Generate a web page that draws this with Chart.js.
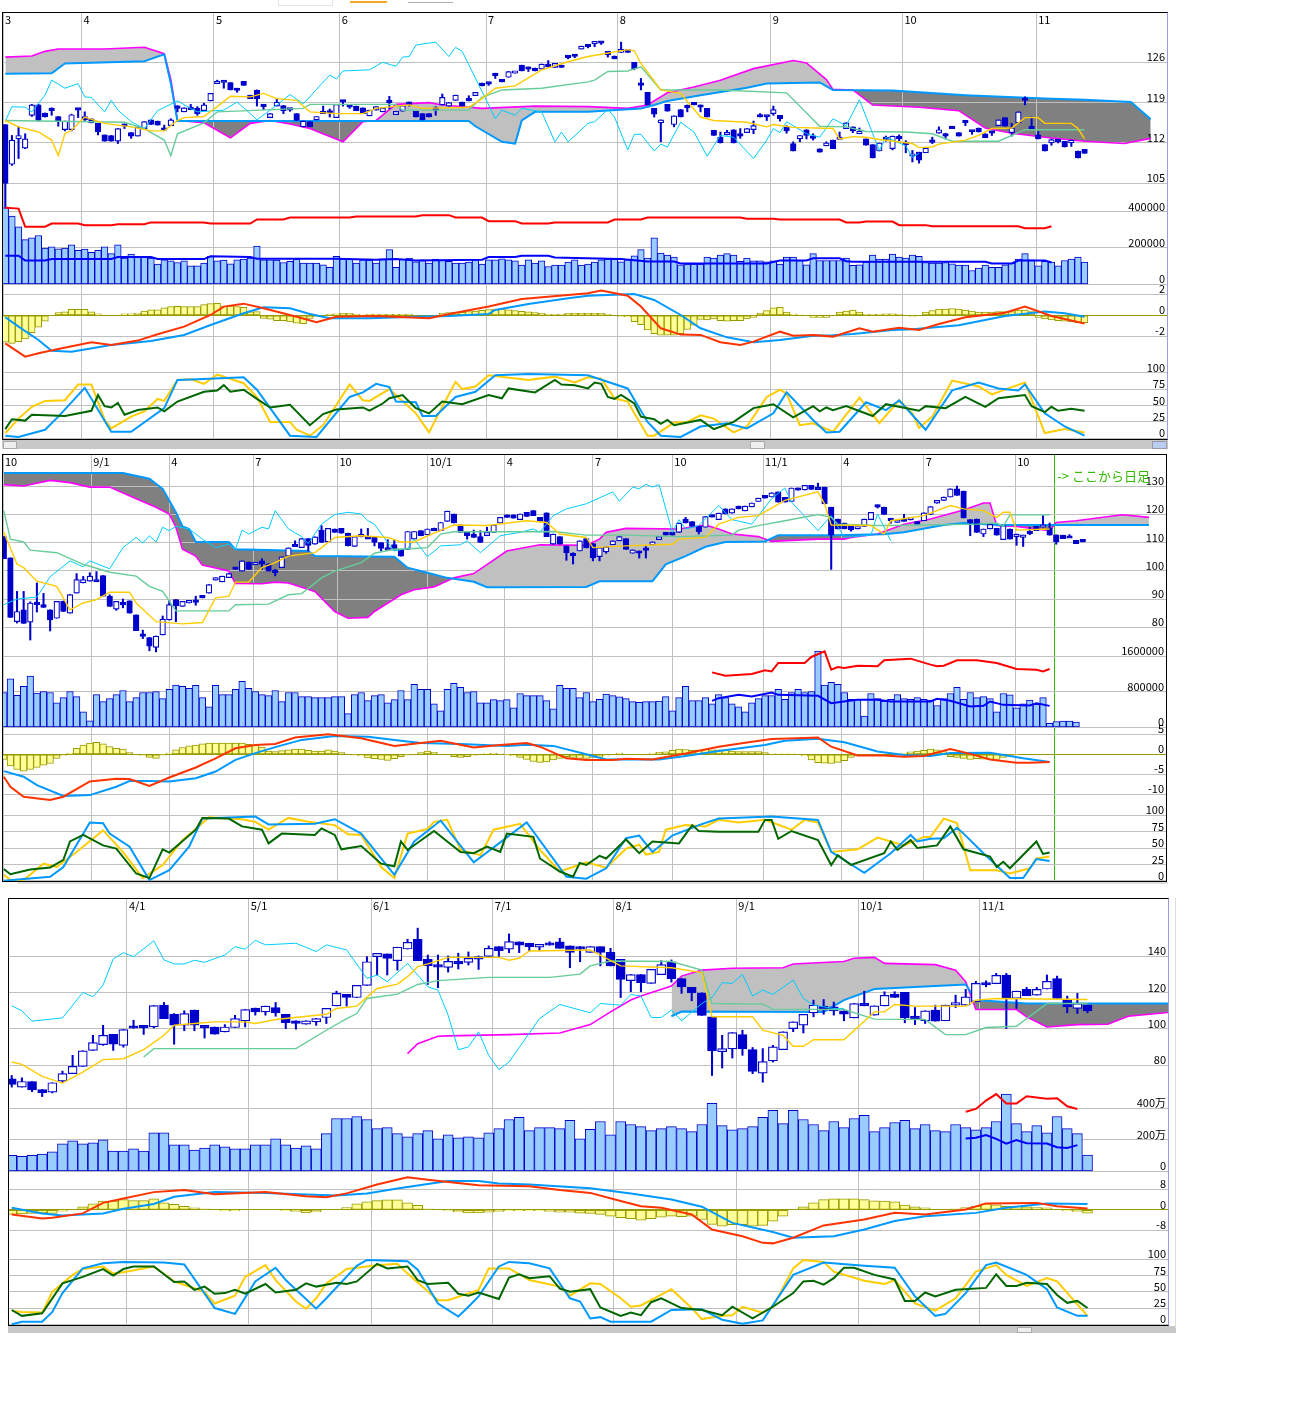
<!DOCTYPE html>
<html>
<head>
<meta charset="utf-8">
<script src="https://cdn.jsdelivr.net/npm/chart.js@4"></script>
<style>
body{margin:0;background:#fff;}
.frame{position:absolute;border-top:1px solid #000;border-left:1px solid #000;border-bottom:1px solid #000;border-right:1px solid #9a9ae0;box-sizing:border-box;}
canvas{position:absolute;left:0;top:0;}
.bar{position:absolute;background:#c8c8c8;}
.tab{position:absolute;box-sizing:border-box;}
</style>
</head>
<body>
<div class="tab" style="left:278px;top:0;width:55px;height:6px;border:1px solid #e4e4e4;border-top:0"></div>
<div class="tab" style="left:350px;top:0;width:37px;height:3px;border-bottom:2px solid #f5a623"></div>
<div class="tab" style="left:408px;top:0;width:45px;height:3px;border-bottom:1px solid #aaa"></div>
<div class="frame" style="left:2px;top:12px;width:1166px;height:428px"><canvas id="top_chart" width="1164" height="426"></canvas></div>
<div class="bar" style="left:2px;top:440px;width:1166px;height:9px"></div>
<div class="bar" style="left:3px;top:441px;width:14px;height:8px;background:#eee;border:1px solid #aaa;box-sizing:border-box"></div>
<div class="bar" style="left:750px;top:441px;width:15px;height:8px;background:#eee;border:1px solid #aaa;box-sizing:border-box"></div>
<div class="bar" style="left:1152px;top:441px;width:15px;height:8px;background:#b8cdf0;border:1px solid #99a;box-sizing:border-box"></div>
<div class="frame" style="left:2px;top:454px;width:1165px;height:428px;border-right-color:#000"><canvas id="mid_chart" width="1163" height="426"></canvas></div>
<div class="bar" style="left:18px;top:882px;width:1150px;height:2px;background:#ddd"></div>
<div class="frame" style="left:8px;top:898px;width:1161px;height:428px"><canvas id="bot_chart" width="1159" height="426"></canvas></div>
<div class="bar" style="left:8px;top:1326px;width:1168px;height:7px"></div>
<div class="bar" style="left:1017px;top:1327px;width:15px;height:6px;background:#eee;border:1px solid #aaa;box-sizing:border-box"></div>
<div class="bar" style="left:1175px;top:898px;width:1px;height:430px;background:#ddd"></div>
<script>
// [open, high, low, close] per column
const top_candles = [[115.2,115.2,100.5,105],[108.3,113.3,108.1,112.5],[112.7,114.8,109.3,113.3],[111.1,113.6,111,112.7],[116.8,118.7,116.6,118.6],[118.6,118.7,115.8,115.9],[117.2,117.2,116.5,116.5],[118,118.1,116.8,117.6],[116.6,116.6,114.9,115.8],[114.3,115.8,114.1,115.8],[114.3,117,114.1,116.9],[118,118,116.4,117.7],[116.6,117.4,115.9,116],[116.2,116.2,115.5,115.5],[115.4,115.4,113.4,113.9],[113.4,113.4,112.3,112.3],[113.3,113.3,112.3,112.3],[112.3,114.5,111.9,114.5],[114.9,115.3,114.5,114.9],[113.8,113.8,112.8,113.2],[113.2,114.8,113.2,114.8],[114.5,115.7,114.5,115.7],[116,116,115.2,115.2],[115.8,115.8,115.1,115.1],[114.6,115.1,114.2,114.2],[115,116.2,115,116],[118,118.5,117.4,118],[117.4,118.1,117.4,118.1],[118.1,118.7,117.8,117.8],[118,118.3,116.8,117.1],[117.6,118.9,117.6,118.6],[119.3,120.6,119.3,120.6],[122.3,122.9,122.3,122.7],[122.5,122.5,121.5,122.5],[122.5,122.5,121.2,121.2],[121.5,121.5,120.8,121.1],[122.7,122.7,122,122],[120.3,120.3,119.7,119.7],[121.2,121.2,118.4,119.7],[118.3,118.7,117.8,118.3],[116.4,117.1,116.4,117.1],[118.4,119.7,118.4,119.1],[118.5,118.5,117.1,117.6],[117.7,118,117.5,117.7],[117.1,117.1,115.9,115.9],[114.8,115.8,114.8,115.8],[115.7,115.7,114.8,114.8],[116,116.6,116,116.6],[117.4,118.4,117.1,117.1],[117.2,117.9,116.5,117.2],[116.4,118.7,116.4,118.7],[119.4,119.4,118.4,119.1],[118.2,118.4,118,118.2],[118.4,118.4,117.6,117.6],[118.1,118.1,117.1,117.1],[116.7,117.7,116.7,117.7],[117.7,118.3,117.7,118.3],[117.4,118.1,117.4,118.1],[119,120.1,117.9,119],[116.9,117.5,116.9,117.5],[117.5,118.5,117.5,118.5],[118.7,119.1,118.4,118.7],[117.5,117.5,116.5,116.5],[117.1,117.1,116,116],[117.1,117.1,116.5,116.5],[117.7,118.3,116.8,117.7],[118.6,120.5,118.6,119.9],[118.4,119,118.4,119],[119.4,120.3,119.4,120.3],[119.1,119.1,118.4,118.4],[119.6,120.2,119.3,119.3],[120.2,120.8,120.2,120.8],[122.4,122.4,121.9,121.9],[122.2,122.4,122,122.2],[123.7,124.1,123.2,123.7],[123,123,122.6,122.6],[123.4,124.4,123.4,124.4],[124.1,124.4,124.1,124.4],[125.5,125.5,124.5,124.5],[124.8,125.2,124.4,124.8],[125,125,124.5,124.5],[124.8,125.7,124.8,125.7],[125.7,126.3,125.2,125.2],[125.1,125.8,125.1,125.8],[125.5,125.5,125.1,125.1],[126.8,127,126.6,126.8],[127,127.2,126.8,127],[128.3,128.8,128.3,128.8],[128.7,128.9,128.5,128.7],[129.2,129.6,128.7,129.4],[129.3,129.5,129.1,129.3],[127.9,127.9,126.9,127.3],[127.1,127.1,126.6,126.6],[127.7,129.5,127.7,128.3],[128.2,128.2,127.7,127.7],[126,126,124.7,124.9],[122,123.2,121.2,122],[120.8,120.8,118.6,118.6],[118,118,116.5,117],[115.5,116,112.2,116],[118.7,118.7,117.5,117.5],[115.2,116.7,114.8,116.7],[117.8,117.8,116.5,116.5],[118.1,118.6,117.4,118.1],[119,119,118.6,118.6],[118.2,118.6,117.4,118.2],[118,118,116.5,116.5],[114.2,114.2,113.3,113.3],[113,113.9,112,112],[113.4,114.2,113.4,113.8],[114.3,114.3,112,112],[113.2,114.5,112.8,113.2],[113.8,114.5,113.8,114.5],[114.3,115.8,113.6,115],[116.8,117.1,116.5,116.5],[116.5,116.5,115.9,116.5],[117.1,118.4,116.8,117.8],[116.8,116.8,115.8,116.2],[114.7,115,113.7,114.1],[111.9,112.2,110.6,110.6],[112.7,113.3,112.2,113.3],[114.3,114.3,112.7,113.3],[112.8,113.6,112.5,112.8],[111,111,110.4,110.4],[111.5,112.2,111.5,112],[112.5,112.5,111,111],[112.6,113.9,112.6,113],[114.5,115.5,114.5,115.5],[114.8,114.8,113.8,114.1],[113.6,114.6,113.6,114],[112.7,112.7,111.6,111.6],[111.7,111.7,109.4,109.4],[110.6,112,110.6,112],[112.6,113.2,112.3,112.6],[111,113.2,110.8,113.2],[112.7,113.4,112.4,112.7],[111.7,112.4,110.3,111.7],[109.7,110.7,108.7,110],[110.4,110.4,108.5,109],[110.3,111.1,110.3,111.1],[112.1,113,111.9,112.1],[113.7,114.8,113.7,114.3],[113.2,113.7,112.7,113.2],[114.9,114.9,114.5,114.5],[113.8,113.8,113.2,113.2],[115.5,115.9,115,115.5],[113.9,114.1,113.5,113.9],[114.6,114.6,113.9,113.9],[113.6,113.6,112.9,112.9],[113.7,114,113.3,113.7],[115,116,115,116],[116.4,116.4,114.9,114.9],[113.8,115.4,113.2,114.6],[115.5,117.4,115.5,117.4],[119.4,120,118.6,119.4],[114.9,116.5,114.4,114.4],[113.4,114,112.7,112.7],[111.7,111.7,110.6,110.6],[112,112.7,111.6,112.6],[112.2,112.4,112,112.2],[112.3,112.3,111.3,111.3],[112,112.5,111.4,112.5],[110.6,110.6,109.4,109.4],[110.9,110.9,110.2,110.2]];
const top_volume = [422,376,317,246,256,269,200,206,196,200,217,187,194,176,187,206,169,217,144,167,154,154,144,111,135,130,120,130,102,102,117,154,130,133,113,135,139,144,211,135,135,133,120,126,139,117,117,117,107,94,154,141,139,117,135,133,117,141,191,94,139,144,124,135,117,139,132,126,117,117,122,135,111,135,135,141,135,130,106,135,117,130,98,106,106,122,135,106,111,122,135,139,139,124,135,157,191,144,256,172,161,150,107,111,111,111,150,144,161,169,161,126,144,130,130,124,130,111,150,150,131,107,169,131,131,131,131,144,104,107,122,161,139,139,167,150,144,161,154,120,117,117,120,113,106,106,76,89,106,94,94,107,117,139,169,135,102,126,122,102,131,139,150,122];
const top_hist = [-2.57,-2.67,-2.5,-2.25,-1.65,-1.14,-.57,0,.25,.32,.57,.57,.57,.32,.13,0,0,0,.13,.13,.22,.41,.51,.51,.7,.83,.86,.83,.83,.83,1.02,1.11,1.14,.89,.89,.83,.76,.32,.35,-.29,-.38,-.51,-.51,-.63,-.76,-.79,-.29,-.13,0,.1,.13,.19,.19,.1,.03,.1,.1,.1,.1,.1,.1,.1,-.13,-.13,-.13,-.13,.19,.25,.29,.29,.35,.41,.48,.54,.6,.6,.51,.44,.38,.32,.25,.19,.1,.1,.1,.19,.19,.19,.19,.19,.19,.1,0,-.1,-.15,-.6,-.9,-1.4,-1.75,-1.9,-1.9,-1.9,-1.75,-1.35,-.95,-.4,-.45,-.35,-.5,-.55,-.5,-.5,-.35,-.2,.2,.45,.7,.75,.3,.12,.05,0,-.2,-.2,-.2,0,.3,.4,.5,.3,.1,.1,.1,.15,.15,.1,0,-.1,0,.3,.45,.6,.6,.65,.6,.5,.4,.3,.3,.3,.35,.35,.35,.5,.5,.35,-.2,-.35,-.45,-.5,-.55,-.6,-.7,-.7];
const top_month_cols = [-.35,11.5,31.5,50.5,72.6,92.5,115.6,135.5,155.7];
const top_month_labels = ['3','4','5','6','7','8','9','10','11'];
const top_span_a = [[0,126.9],[4,127.1],[6,127.9],[8,128.3],[15,128.3],[21,128.6],[24,127.5],[25,123],[26,115.9],[30,115.5],[34,112.9],[37,115.4],[40,115.9],[43,115.3],[46,114.5],[51,112.2],[54,115.7],[56,115.9],[59,118.7],[64,119],[66,118.6],[72,118],[80,118.4],[88,118.3],[94,118],[97,118.6],[100,120.7],[104,121.7],[108,122.9],[113,124.9],[119,126.3],[121,125.9],[124,123],[125,121.3],[128,121.2],[131,118.6],[138,118.2],[144,117.6],[148,114.6],[152,113.7],[157,113],[163,112.3],[169,111.9],[173,112.8]];
const top_span_b = [[0,124],[7,124.1],[9,125.8],[21,126.2],[24,127.4],[25,122.3],[26,115.8],[70,115.8],[71,114.9],[75,112.2],[77,111.9],[78,115.9],[80,117.4],[88,117.4],[96,118],[98,118.6],[100,119.3],[105,120.3],[112,121.6],[115,122.3],[123,122.5],[125,121.2],[134,121.1],[145,120.3],[157,119.7],[163,119.5],[170,119.1],[173,116.1]];
const top_tenkan = [[0,115.9],[2,114.8],[5,113.9],[7,112.5],[8,109.8],[9,113.6],[10,114.2],[12,116.5],[13,116.1],[15,115.4],[19,114.8],[22,114.1],[24,114.1],[26,115.9],[27,116.4],[30,116.6],[32,118.3],[34,120.1],[37,120],[39,120.6],[41,119.7],[44,119.4],[46,117.4],[50,117.1],[54,117.1],[56,118],[59,118.4],[61,118.6],[63,118],[70,118.2],[72,119.7],[74,121.5],[77,121.9],[81,124.7],[85,126.1],[88,127],[90,127.4],[94,128.2],[95,128],[96,125.8],[99,121.2],[102,120.6],[105,116.5],[107,115.9],[112,115.6],[115,114.8],[116,115.2],[119,114.7],[125,114.5],[126,112.7],[128,113.1],[130,113],[132,112.6],[137,111.9],[138,111.2],[140,111.3],[141,111.8],[145,112.5],[147,113.3],[149,114.5],[152,114.6],[154,116.4],[156,116.4],[157,115.4],[161,115.4],[162,114.5],[163,112.7]];
const top_kijun = [[0,115.9],[18,115.6],[21,114.5],[24,112.5],[25,109.8],[26,113.6],[30,115.5],[32,117.4],[45,118],[46,118.7],[59,118.7],[60,117.7],[70,117.7],[72,119.9],[75,121.2],[81,121.5],[88,122.6],[89,122.9],[91,124.4],[94,124.5],[96,125.2],[99,121.2],[101,121.2],[108,121.2],[118,120.7],[123,114.9],[127,114.8],[130,114],[136,113.9],[140,113.6],[143,112.3],[150,112.3],[154,114.3],[163,114.3]];
const top_chikou = [[0,115.8],[1,118.3],[3,118.2],[4,117.4],[6,120.3],[7,122.9],[9,121.5],[11,122.3],[12,120],[13,119.9],[15,117.4],[16,119.4],[17,117.7],[19,115.7],[21,114.5],[23,117.6],[26,119.3],[28,118],[29,117.4],[33,117.7],[35,119.1],[37,117.1],[38,116],[40,117.7],[43,120.4],[45,118.8],[49,123.8],[50,123.1],[51,124.5],[55,124.7],[57,126],[59,125.3],[60,126.9],[61,127],[62,129],[65,129.5],[67,127],[68,128.6],[69,127.9],[73,118.6],[74,116.2],[75,117.7],[77,116.8],[78,118],[81,117.4],[83,112.2],[84,113.9],[85,112.2],[88,115.4],[89,115.7],[91,117.8],[92,116.5],[94,110.8],[95,113.5],[96,113.5],[98,110.6],[99,111.8],[100,111.3],[102,115.6],[104,113.9],[106,109.7],[108,113.3],[110,113],[113,109.3],[115,112.5],[116,114.5],[117,113.8],[118,115.7],[121,113.6],[123,113],[125,116.2],[127,115],[129,119.5],[131,113.6],[132,110.7],[133,113],[136,111.5],[137,109.5],[138,110.2]];
const top_vol_red = [[0,422],[2,417],[3,317],[6,317],[7,335],[11,335],[12,326],[16,326],[17,331],[21,331],[22,341],[30,341],[31,335],[37,335],[38,357],[42,357],[43,368],[52,368],[53,374],[62,374],[63,381],[67,381],[68,368],[72,368],[73,348],[77,348],[78,335],[82,335],[83,341],[91,341],[92,357],[96,357],[97,368],[111,368],[112,361],[116,361],[117,357],[126,357],[127,341],[129,341],[130,346],[134,346],[135,326],[139,326],[140,320],[153,320],[154,309],[157,309],[158,320]];
const top_vol_blue = [[0,157],[2,157],[3,131],[6,131],[7,139],[16,139],[17,150],[22,150],[23,139],[30,139],[31,154],[37,150],[38,141],[50,141],[56,135],[59,139],[62,131],[72,135],[73,150],[77,150],[78,157],[82,157],[83,148],[91,141],[93,139],[97,126],[101,126],[102,115],[115,115],[117,131],[121,131],[122,143],[126,143],[127,127],[128,124],[148,124],[149,115],[152,115],[153,131],[157,131],[158,120]];
const top_macd_blue = [[0,-.19],[2,-1.08],[5,-2.35],[7,-3.37],[10,-3.46],[16,-2.83],[22,-2.44],[27,-1.87],[31,-.92],[36,.19],[39,.76],[43,.67],[46,.13],[49,-.29],[55,-.29],[62,-.13],[67,-.06],[73,.13],[74,.51],[79,1.08],[85,1.62],[88,1.87],[95,2.03],[98,1.46],[102,.03],[105,-1.24],[109,-2.1],[113,-2.57],[117,-2.35],[122,-1.94],[125,-1.9],[128,-1.78],[134,-1.4],[137,-1.33],[144,-.95],[151,-.06],[157,.35],[160,.19],[163,-.13]];
const top_macd_red = [[0,-2.67],[3,-3.94],[5,-3.62],[8,-3.21],[13,-2.57],[16,-2.83],[20,-2.41],[23,-1.81],[27,-1.08],[31,.03],[33,.83],[36,1.11],[39,.67],[44,-.13],[47,-.67],[50,-.13],[56,-.06],[64,-.29],[68,.25],[73,.83],[78,1.56],[88,2.1],[90,2.35],[94,1.87],[96,.83],[99,-1.24],[102,-1.84],[105,-1.87],[108,-2.57],[111,-2.83],[113,-2.51],[117,-1.56],[119,-1.94],[122,-1.87],[125,-2.03],[129,-1.24],[131,-1.56],[135,-1.18],[138,-1.4],[141,-.83],[145,-.19],[151,.25],[154,.83],[158,-.06],[163,-.79]];
const top_stoch_yellow = [[0,8],[2,30],[4,48],[6,57],[9,58],[11,82],[13,82],[15,28],[16,15],[19,33],[21,41],[23,60],[24,57],[26,89],[28,90],[30,83],[32,97],[36,84],[38,63],[40,25],[43,25],[44,13],[46,4],[48,20],[52,82],[54,58],[55,57],[58,75],[62,38],[64,9],[66,48],[68,86],[69,75],[71,79],[73,96],[79,89],[83,94],[86,85],[88,93],[90,91],[92,61],[94,56],[95,38],[97,4],[98,4],[101,24],[103,25],[105,35],[107,30],[110,9],[112,18],[115,63],[117,74],[118,68],[120,20],[122,23],[125,10],[127,36],[129,62],[132,23],[135,58],[137,38],[138,16],[140,33],[143,88],[147,79],[149,67],[152,78],[154,85],[157,8],[160,14],[163,9]];
const top_stoch_blue = [[0,4],[2,2],[6,13],[8,33],[12,77],[16,10],[19,10],[24,46],[26,89],[29,90],[36,93],[38,74],[43,4],[47,2],[52,63],[54,70],[56,83],[58,78],[59,56],[62,55],[63,34],[65,34],[68,63],[71,71],[74,96],[79,98],[88,96],[94,76],[97,25],[99,4],[102,2],[105,18],[109,23],[112,15],[116,38],[118,70],[122,28],[124,9],[126,10],[130,55],[133,43],[135,58],[139,13],[143,73],[147,85],[150,76],[153,73],[154,82],[157,38],[160,18],[163,4]];
const top_stoch_green = [[0,14],[1,29],[3,27],[4,36],[9,34],[13,42],[14,66],[15,49],[16,47],[17,54],[18,36],[20,43],[23,47],[24,41],[26,56],[30,71],[32,73],[33,81],[34,71],[36,74],[38,60],[40,47],[43,51],[46,20],[48,37],[50,44],[54,47],[55,42],[57,53],[58,61],[60,66],[62,46],[64,38],[66,56],[69,52],[73,66],[75,61],[76,76],[80,70],[83,89],[84,82],[86,81],[88,76],[89,85],[90,83],[91,63],[92,60],[93,66],[95,53],[96,33],[98,29],[99,22],[100,28],[101,20],[105,28],[107,14],[110,25],[113,46],[116,52],[119,32],[122,49],[123,41],[124,47],[125,43],[127,49],[131,34],[133,52],[138,42],[139,49],[142,46],[145,63],[148,48],[150,61],[154,66],[155,49],[157,40],[158,48],[159,42],[161,45],[163,42]];

const mid_candles = [[112.1,112.1,104.3,104.3],[104.6,104.6,83.5,83.5],[82,92.7,81.5,85.6],[86.2,92.7,81.4,81.4],[81.8,89,75.5,88.6],[88.3,95.7,85.4,88],[88,92,87,87],[86.2,86.2,78.7,82.6],[83.2,89.2,83.2,89.2],[89.2,89.3,85.6,85.6],[85,91.6,85,91.6],[92.1,99,92.1,96.9],[95.7,98,95.7,96.9],[96.3,99.3,96.3,98.1],[96.9,99.7,96.7,96.9],[98.3,98.3,91,91],[91,91.5,87.4,87.4],[86.4,89.2,86,89.2],[88.8,90,86.9,88.8],[89.4,89.4,85,85],[84.4,84.4,78.8,78.8],[77.7,79,76,77.7],[76.4,76.4,71.7,73.3],[72.9,76.9,71.3,76.9],[77.3,84,77.3,82.9],[82.6,89.5,82.6,88],[89.8,89.8,82,87.6],[87.4,89.2,87.4,89.2],[88.6,89.5,88.6,89.5],[89.7,91,87.8,89.7],[91.2,91.2,90.4,90.4],[92.1,95.1,92.1,95.1],[96.7,97.5,96.7,97.5],[96.1,98.1,96.1,98.1],[97.6,99,97.6,99],[101.2,101.2,100.5,100.5],[99.9,103.5,99.9,103.5],[103.1,103.1,100.5,100.5],[102.2,102.9,102.2,102.9],[103.5,104.3,100.5,102.3],[102.5,102.5,99.9,99.9],[100.2,100.5,98.2,100.2],[101.1,104.9,101.1,104.9],[105.2,108.1,105.2,108.1],[109.4,110.6,109.2,109.4],[108.2,111.4,108.2,111.4],[111.4,111.4,107,109],[109.4,112,109.4,112],[114.4,116,110,110],[110.2,115,110.2,115],[114.8,114.8,113.6,113.6],[115,115,113.3,113.3],[113.3,113.3,108.8,108.8],[108.6,112.1,108.6,112.1],[112,114.8,112,112.9],[112.1,115,111.9,112.1],[111.9,111.9,108.8,110],[110,110,107.1,107.9],[108.2,111,108,108.2],[109.3,111,107.3,107.3],[107.6,107.6,105.2,105.2],[107.6,113.9,107.6,113.9],[111.2,113.9,111.2,113.9],[114.2,114.2,112.4,112.4],[112.7,114.8,112.7,114.8],[115,115.1,114.7,115],[114.2,117.1,114.2,117.1],[117.5,121.1,117.5,121.1],[120.1,120.1,116.9,116.9],[116.3,116.3,113.6,113.6],[113.6,113.6,111.2,112.4],[113,114.4,111.8,111.8],[112.1,114.2,110,110],[112.4,115.4,112.4,113.6],[113.6,116.2,113.6,116.2],[116.9,118.9,116.9,118.9],[119.8,119.8,118.9,118.9],[119.8,119.8,118.6,118.6],[118.1,120.1,118.1,120.1],[120.7,120.7,119.2,119.2],[121.3,121.3,119.5,119.5],[118.9,118.9,117.5,117.5],[120.5,120.5,112.1,112.1],[109.4,113,109.4,113],[112.1,112.1,109.4,109.4],[108.8,108.8,103.7,106.4],[106.2,106.4,102.4,106.2],[107,110.6,107,110.6],[111.4,111.4,108.1,108.1],[109.6,109.6,103.5,104.6],[105,108.2,103.5,108.2],[106.7,108.5,106.2,108.5],[109.2,110.6,109.2,110.6],[110.6,112.1,110.6,112.1],[111.4,111.4,107.6,107.6],[106.2,107.4,106.2,107.4],[107,107,104.5,106.2],[108.1,108.6,104.5,108.1],[109.2,110.2,109.2,110.2],[111,112.1,111,112.1],[113.6,113.6,112.6,112.6],[113.6,113.6,112.6,112.6],[113.6,116.9,113.6,116.9],[118.3,118.9,116.9,116.9],[117.4,117.4,115.7,115.7],[115.7,115.7,113,113.8],[115.4,119.2,115.4,119.2],[119.8,119.8,119,119],[118.1,120.4,118.1,120.4],[121.9,121.9,120.1,120.1],[120.4,121.9,120.4,121.9],[122.9,122.9,121.9,121.9],[121.2,122.9,121.2,122.9],[122.6,124,122.6,124],[124.5,125.7,124.5,125.7],[126.7,126.7,125.7,125.7],[126.1,127.6,126.1,127.6],[127.9,127.9,124.3,124.3],[126,126,124.3,124.3],[124.5,129.3,124.5,129.3],[129.3,129.3,128.5,128.5],[128.6,130.2,128.6,130.2],[130.2,130.2,128.8,128.8],[129.6,131,129.4,129.6],[129.6,129.6,123.7,123.7],[122.5,122.5,100.5,112.6],[118.3,118.3,114.8,114.8],[116.9,116.9,114.8,114.8],[115.7,116,114,114.5],[114.8,115.4,114.8,115.4],[115.7,118.3,115.7,118.3],[118.1,120.7,118.1,120.7],[123.1,123.3,122.2,122.5],[122.5,122.5,119.9,119.9],[118.6,118.6,116.8,117.7],[117.1,117.7,117.1,117.7],[118.1,120,117.5,117.5],[118,118.9,118,118.9],[117.4,117.4,116.4,116.4],[117.7,120.5,117.7,120.5],[119.9,122.7,119.9,122.7],[123.9,124.9,123.9,124.9],[124.9,126.1,124.9,126.1],[126.1,129,126.1,129],[129,130,126.7,126.7],[128.2,128.2,118.7,118.7],[118.1,118.1,112.4,116.9],[118.3,118.3,113.6,113.6],[113,114.8,112.1,114.8],[114.8,116.4,114.8,116.4],[115,115,112.6,112.6],[111,116,111,116],[114.8,114.8,111.2,111.2],[112.1,113,109,113],[111.8,112.6,108.6,112.6],[114,115.4,112.8,114],[115.7,115.7,114.2,114.2],[115.4,119.5,115.4,115.7],[115,116.9,112.6,112.6],[112.7,112.7,109.4,110.2],[112.6,112.6,111.4,111.4],[112.4,112.8,112,112.4],[110.8,110.8,109.6,109.6],[111.1,111.1,110.2,110.2]];
const mid_volume = [784,1092,723,923,1153,769,807,784,554,669,807,692,346,146,738,577,646,738,830,577,669,784,784,807,646,854,954,923,877,946,669,461,946,738,738,854,1038,877,807,738,715,830,577,784,784,692,692,669,669,669,692,692,308,738,784,600,715,738,554,623,830,623,969,854,854,531,369,854,992,900,784,807,554,554,623,600,623,438,761,715,715,715,600,415,946,877,877,669,784,577,631,746,715,684,646,577,561,577,577,592,692,369,669,923,600,600,669,531,738,669,531,461,346,554,646,715,715,854,631,784,854,784,807,1720,954,1015,969,784,631,631,254,761,646,592,631,738,646,631,669,631,615,492,646,761,900,631,784,669,692,646,346,761,731,438,531,615,515,669,92,131,138,138,115];
const mid_hist = [-1.3,-2.9,-3.8,-4.2,-3.8,-3.3,-2.7,-2.3,-1,-.3,.3,1.5,2.3,2.8,3,2.6,1.9,1.5,1.3,.4,0,-.3,-.8,-1,-.2,.3,1.1,1.7,2.1,2.3,2.6,2.8,2.8,2.8,2.8,2.8,2.8,2.5,2.3,1.8,.8,.7,.9,1.1,1.3,1.3,1,.8,.8,1.1,.8,.4,0,-.2,-.4,-.9,-1.1,-1.3,-1.5,-1.1,-.6,-.2,0,.4,.8,.5,0,0,-.6,-.8,-.6,-.3,0,.2,.3,.1,-.1,-.4,-.8,-1.3,-1.8,-2,-1.9,-1.4,-1,-.6,-.8,-1,-1,-.8,-.8,-.3,0,.3,0,0,0,0,.2,.5,.6,1,1.3,1.2,1,1.1,1.3,1.1,1.1,1.1,.8,.7,.7,.7,.7,.4,.1,.1,.1,.1,0,-.4,-1.4,-2.1,-2.2,-2.3,-2,-1.6,-.8,-.4,0,0,0,0,0,0,.3,.6,.8,1,1.3,1.1,.7,-.6,-.8,-1,-1.3,-1.1,-1.2,-1.3,-1.3,-.8,-.3,-.1,0,0,0,0,0];
const mid_month_cols = [-.12,13.2,25,37.7,50.4,64,75.7,89,101,114.7,126.5,139,152.8];
const mid_month_labels = ['10','9/1','4','7','10','10/1','4','7','10','11/1','4','7','10'];
const mid_cut_col = 158.7;
const mid_span_a = [[0,130.5],[3,130],[7,132],[10,131.2],[13,129.6],[16,129.6],[20,125.5],[23,122.5],[25,120.1],[26,115.4],[27,107.6],[29,105.2],[30,102],[34,99.9],[35,95.5],[39,95.4],[41,96],[43,95.7],[47,92.7],[50,85.6],[52,83.2],[55,83.5],[56,85.6],[60,91.5],[62,93.3],[65,94.3],[68,97.5],[71,99],[76,107],[81,109.2],[88,109],[90,111.2],[91,113.6],[94,115],[102,114.8],[106,116.2],[108,114.8],[110,113],[114,112.1],[116,110.4],[123,111.2],[127,111.2],[128,111.8],[132,113],[136,116.5],[140,118.3],[145,121.5],[148,124],[149,124],[150,116],[153,115.7],[158,114.2],[159,117.1],[162,117.7],[169,119.8],[173,118.9]];
const mid_span_b = [[0,134.6],[18,134.6],[22,132.6],[24,129],[26,120.7],[27,115.7],[28,114.8],[29,110.2],[34,110.2],[35,107.6],[46,107],[47,105.2],[59,105],[61,101.1],[64,99.3],[67,97.5],[71,96.1],[73,94.2],[88,94.3],[90,96.3],[98,96.3],[100,102.3],[103,105.2],[106,108.5],[109,110.2],[115,110.4],[117,112.6],[125,112.6],[133,112.9],[136,113.6],[142,116.2],[145,116.9],[150,116.2],[173,116.2]];
const mid_tenkan = [[0,113.6],[2,102.3],[3,101.1],[5,96.3],[8,94.5],[10,86.2],[12,88.6],[14,89.8],[16,92.4],[19,92.4],[20,88.6],[23,82],[27,81.2],[30,81.7],[32,90.4],[34,91],[35,96],[37,96],[39,101.1],[41,102.9],[43,105.2],[47,106.4],[48,108.2],[50,111.8],[54,112.4],[58,111.8],[60,110.2],[62,110.2],[65,113.3],[68,116.2],[73,116],[79,117.7],[82,117.1],[84,113],[88,111.8],[89,108.2],[94,108.8],[101,109.4],[102,111.2],[106,111.8],[108,116.5],[111,118.9],[114,119.5],[118,124.9],[123,127.9],[124,123.7],[125,116.2],[131,116],[133,113],[134,117.7],[139,119.5],[143,123.1],[145,121.9],[148,121.3],[150,118.9],[151,120.7],[152,120.7],[153,114.4],[158,114.8]];
const mid_kijun = [[0,121.3],[1,111.2],[3,110.2],[4,107.3],[8,106.4],[12,102.3],[16,99.5],[20,98.1],[22,94.5],[24,92.7],[26,85.8],[34,85.8],[35,88],[40,88.2],[43,91.5],[45,91.9],[48,97.5],[50,99.9],[54,102.9],[56,106.2],[59,107.6],[62,107.9],[64,108.2],[66,113],[68,113.8],[79,113.8],[83,113.9],[88,112.6],[94,112.6],[102,112.1],[110,112.6],[111,114.4],[114,116],[118,117.7],[123,119.9],[125,118.9],[126,116.5],[132,116],[134,116],[147,116.5],[150,116.9],[151,115.7],[152,119.8],[158,119.8]];
const mid_chikou = [[0,88],[2,90],[5,90.7],[7,97.9],[10,103.5],[12,101.4],[13,103.5],[16,100.7],[18,108.2],[20,111.8],[21,109.8],[22,112.4],[23,110.2],[24,115.4],[25,114.2],[26,115.7],[28,114.8],[30,111.2],[32,108.2],[34,109.4],[35,107.6],[36,114.4],[37,113],[39,115.4],[40,114.8],[41,121.3],[43,114.8],[45,112.1],[46,109.6],[48,116.5],[50,119.9],[52,120.7],[54,120.1],[55,117.7],[56,116.5],[58,110],[59,107],[61,107.9],[62,111.2],[64,105],[66,108.8],[69,109.2],[70,110.6],[72,106.4],[75,112.4],[78,113.6],[80,114.8],[81,113.6],[83,119.5],[85,121.9],[88,123.7],[92,127.9],[93,124.6],[95,129.6],[96,129],[97,130.6],[98,129.6],[99,130.5],[101,113.6],[102,118.1],[103,114.8],[105,116],[108,123.1],[110,118.1],[113,116.5],[116,125.5],[118,129.3],[119,124.3],[123,114.2],[125,119.5],[127,111.8],[131,112.6],[132,120.1],[134,110.6]];
const mid_vol_red = [[107,1238],[109,1162],[113,1200],[115,1283],[116,1260],[117,1449],[121,1449],[122,1585],[124,1713],[125,1298],[126,1359],[127,1336],[129,1389],[132,1374],[133,1510],[137,1547],[140,1412],[141,1374],[142,1389],[144,1510],[147,1510],[150,1449],[153,1313],[156,1298],[157,1260],[158,1313]];
const mid_vol_blue = [[107,596],[108,656],[111,732],[113,694],[116,785],[117,732],[123,709],[125,543],[128,604],[129,619],[132,619],[134,581],[140,581],[141,641],[143,596],[146,468],[148,483],[149,581],[151,506],[155,490],[156,543],[158,483]];
const mid_macd_blue = [[0,-4.2],[3,-5.6],[5,-7.7],[9,-10.4],[13,-10.2],[17,-8.1],[19,-6.7],[22,-6.7],[25,-6.8],[29,-6],[32,-4.3],[35,-1.4],[38,.3],[41,1.8],[45,3.6],[50,4.6],[55,4.4],[60,3.4],[63,2.8],[69,2.6],[76,2.1],[79,2.4],[83,2.1],[88,0],[91,-1.3],[99,-1.3],[103,-.4],[108,.8],[115,2.3],[118,3.4],[123,3.9],[127,3],[132,.7],[136,-.2],[140,-.4],[143,.3],[149,.4],[154,-1],[158,-1.9]];
const mid_macd_red = [[0,-5.6],[1,-8.1],[3,-10.6],[7,-11.4],[9,-10.6],[13,-6.8],[17,-6.1],[19,-6.2],[22,-7.9],[25,-5.8],[29,-3.3],[32,-1],[35,1.5],[38,2.3],[41,2.6],[44,4.2],[49,5],[54,4],[59,2.1],[66,3.4],[71,1.7],[75,2.3],[79,2.8],[81,1.9],[85,-1],[88,-1.4],[92,-1.4],[94,-1.1],[98,-1.3],[103,.2],[108,1.9],[112,2.9],[116,3.8],[121,4.1],[123,4.2],[125,1.9],[129,-.3],[133,-.3],[136,-.6],[139,-.4],[143,1.3],[146,.1],[149,-1.3],[153,-2.1],[155,-2.1],[158,-1.9]];
const mid_stoch_yellow = [[0,9],[1,1],[3,1],[6,26],[8,21],[11,44],[15,77],[18,44],[21,4],[24,24],[27,62],[30,88],[31,97],[36,94],[38,90],[40,78],[43,96],[46,90],[50,85],[52,71],[54,70],[57,21],[59,4],[61,72],[64,79],[65,90],[67,93],[69,47],[72,39],[74,78],[78,87],[81,47],[84,14],[86,21],[88,28],[91,20],[94,49],[96,55],[97,40],[99,44],[100,78],[103,85],[106,83],[108,93],[111,89],[115,93],[119,78],[121,93],[123,89],[125,44],[129,48],[132,66],[136,54],[139,67],[140,67],[142,95],[144,88],[146,16],[150,16],[152,11],[155,19],[156,34],[158,37]];
const mid_stoch_blue = [[0,0],[7,6],[9,21],[13,89],[15,88],[16,72],[19,52],[22,1],[25,16],[28,52],[30,95],[38,98],[40,86],[47,87],[50,94],[54,72],[59,9],[62,60],[66,92],[71,28],[79,89],[85,6],[88,3],[91,19],[94,65],[96,69],[98,44],[101,69],[105,85],[108,95],[116,98],[123,93],[125,44],[130,12],[134,42],[137,70],[138,60],[140,64],[142,65],[144,81],[145,72],[148,42],[152,4],[154,4],[156,33],[158,30]];
const mid_stoch_green = [[0,18],[1,10],[4,17],[7,20],[9,32],[10,60],[12,70],[15,54],[17,49],[20,11],[22,4],[24,48],[25,43],[29,78],[30,96],[34,95],[36,83],[39,78],[40,57],[42,72],[47,70],[48,80],[50,70],[51,48],[54,53],[57,26],[59,22],[60,60],[61,47],[65,76],[69,44],[71,42],[73,52],[75,44],[76,72],[80,67],[81,34],[84,14],[86,6],[87,27],[88,24],[90,38],[91,34],[94,63],[96,42],[98,60],[102,57],[104,85],[105,76],[108,75],[114,75],[115,93],[116,93],[117,64],[119,76],[123,62],[125,24],[126,39],[128,24],[133,42],[134,60],[135,47],[137,62],[138,50],[141,54],[143,83],[145,48],[149,37],[150,21],[151,29],[152,19],[156,60],[157,41],[158,43]];

const bot_candles = [[72.6,74.4,68,69.5],[68,73.1,68,71.1],[71.1,71.1,65.5,66.5],[66.7,66.7,62.8,65],[65.2,70.4,64.8,70.4],[71.3,76.8,70.5,75.4],[75.4,85.5,75.4,79.4],[79.4,88,79.4,88],[88.2,96.5,88.2,92.5],[91.4,102,91,96.5],[97.1,97.1,88.2,91.6],[91,99.7,90,99.7],[101.5,104.8,100.4,100.4],[102,102,97,100.6],[101.1,112.9,100.5,112.9],[113.1,114.6,105.7,105.7],[108.1,108.5,91.6,102.1],[102.1,110,99,108.5],[110.4,110.4,99,102.1],[101.5,101.5,95,100.6],[101.1,101.1,97.1,97.1],[98.4,102.4,98.4,101.1],[100.8,107.5,100.8,105.7],[104.5,110.7,101.1,110.7],[111.5,111.5,107.6,109.4],[109.4,112.6,107.6,112.6],[111.8,114.6,107,108.9],[108.1,108.1,100.2,103.4],[104.5,104.5,99.9,103],[102.6,104.5,102.6,104.5],[103.9,105.7,102,105.7],[106.3,111.3,103,111.3],[112.7,120.8,112.7,119.6],[119,119,112.6,117.3],[117.3,124,117.3,124],[124,139.8,124,137],[139.8,141.6,129.7,141.6],[141.3,141.3,129.7,138.9],[137.6,145,132.4,145],[144,149.4,144,147.7],[149.4,155.5,137.6,137.6],[138.3,140.7,124.5,134.8],[135.4,140.7,122.7,135.4],[133.9,140.2,131.3,137.2],[137,141.7,133,135.8],[136.7,142.4,135.2,138.9],[139.8,140.2,132.8,139.8],[140,145.7,140,144.4],[145.3,145.3,140,143.1],[143.9,152.3,142,148.1],[147.9,147.9,142,146.1],[147.2,147.2,143,145.3],[145,146.6,143,146.6],[147.2,148,146.1,146.1],[147.9,149.9,144.4,144.4],[145.7,145.7,133.7,142.2],[145.3,145.3,137,143.9],[142.2,145.3,142.2,145.3],[145.3,145.3,134.7,142.2],[142.2,144.4,134.7,134.7],[138.3,138.3,117.3,127.3],[126.6,129.9,120.5,129.9],[129.9,129.9,120.5,125.5],[125.1,132.8,125.1,132.8],[129.9,137.6,129.9,135.4],[136.9,138,125.8,127.7],[127.8,127.8,119.6,123.2],[122.9,122.9,115.5,119.9],[119.9,119.9,107.4,107.4],[106.7,106.7,74.4,87.9],[87.5,96.5,78.5,89.2],[89,98,84,98],[96.9,99.3,85.5,89],[88.6,89.8,75.4,76.6],[75.7,89.2,70.7,82],[82.4,91,81.8,90.1],[88.6,98.4,88.6,98.4],[100.2,103.9,98.5,103.9],[102.1,108,97.8,108],[108.9,115.9,106.7,113.1],[112.6,116.2,108.1,110.4],[112.2,114.8,107.6,110],[110,110,104.5,108.1],[106.1,114,106.1,114],[114,120.8,112.7,112.7],[107.6,112.7,107.6,112.7],[112.7,120.5,112.7,118.5],[119.2,120.5,117.3,117.3],[120.1,120.1,103.4,106.1],[107,111.8,102.4,105.7],[104.5,110,103,110],[110.4,113.1,104.3,104.3],[104.5,113.1,104.5,113.1],[113.1,118.6,111.8,114],[113.1,121.8,113.1,117.7],[115,126.2,115,125.1],[125.6,126.5,123.2,124.2],[124.9,130.6,124.9,129.5],[129.7,130.6,100.2,116.8],[116.8,120.8,111.3,120.8],[121.8,122.9,118.3,118.3],[118.6,122.9,118.6,121.8],[122,129.7,122,126.2],[127.8,129.1,116.8,116.8],[115.9,118.1,108.9,112.2],[111.3,119.6,108.5,114],[113.1,113.1,108.9,110]];
const bot_volume = [101,95,101,110,123,174,194,174,181,200,129,129,142,129,245,245,168,168,135,148,168,155,142,142,168,168,206,168,148,161,142,239,335,335,348,329,271,277,239,219,239,258,206,232,213,219,213,245,271,329,342,258,277,277,271,323,206,266,316,232,316,297,284,258,271,284,271,252,297,432,290,264,271,284,342,387,303,387,329,297,258,316,277,335,355,252,277,310,323,271,297,258,252,297,277,264,277,316,490,303,252,290,245,348,271,239,103];
const bot_hist = [-1.8,-1.6,-1.4,-1.2,-1.4,-.5,0,1.2,2.3,3.4,3.4,4,3.6,3.6,4.3,2.7,2.1,1.4,.8,.4,0,-.4,-.4,0,0,0,0,-.3,-.6,-1.2,-.8,0,0,.9,2.3,3.1,3.6,3.9,3.9,2.7,1.7,.4,0,-.1,-.8,-1.2,-1.2,-.9,-.6,-.3,-.3,-.3,-.3,-.6,-.9,-.9,-1.3,-1.4,-1.8,-2.5,-3.1,-3.5,-4,-3.5,-2.9,-2.5,-2.7,-2.5,-3.8,-5.7,-6.4,-5.8,-5.8,-6.4,-6.1,-4.4,-2.5,0,1.2,2.7,4,4.3,4.3,4.3,4,3.5,3.4,3.1,1.8,1.2,.8,0,0,.4,.9,1.4,2.3,1.9,1.4,1.4,1.2,.9,.8,0,-.4,-.6,-1.3];
const bot_month_cols = [11.35,23.35,35.4,47.4,59.3,71.4,83.4,95.4];
const bot_month_labels = ['4/1','5/1','6/1','7/1','8/1','9/1','10/1','11/1'];
const bot_span_a = [[39,86.4],[40,91.9],[42,96],[43,96.2],[49,96.9],[54,97.8],[57,102.4],[59,109.4],[61,115.9],[62,118.1],[65,123.6],[66,129.1],[68,132.4],[71,133.4],[76,133.7],[77,135.8],[82,137.1],[83,138.9],[85,139.4],[86,136.1],[91,135.4],[93,132.4],[94,126],[95,110.7],[99,110.7],[100,106.7],[102,101.1],[105,102.4],[108,102.6],[110,107],[114,109.1]];
const bot_span_b = [[65,107],[66,109.6],[80,109.4],[82,115.9],[85,122],[94,124.5],[95,115.9],[100,114],[114,114]];
const bot_tenkan = [[0,81.8],[1,80.5],[3,73.9],[5,70.2],[7,76.3],[9,83.1],[11,83.6],[13,88.6],[15,96.5],[16,102.1],[18,103],[20,103.9],[23,103.9],[24,103],[26,105.2],[31,108.1],[32,111.3],[34,112.6],[36,122.3],[38,124.7],[39,128.8],[40,134.3],[41,135.8],[43,139.4],[48,139.4],[49,137.8],[50,138.9],[51,142.9],[57,143.5],[60,134.7],[65,133.7],[68,131],[69,106.7],[73,106.7],[74,99.3],[76,96.5],[77,90.5],[78,90.5],[79,94.1],[82,94.1],[85,109.4],[86,109.4],[87,113.5],[89,112.6],[94,112.6],[95,115.9],[97,116.8],[106,116.2]];
const bot_kijun = [[13,84.6],[14,89.2],[28,89.2],[31,99.3],[33,105.7],[34,108.5],[35,116.8],[38,119.2],[40,124.5],[42,126.6],[47,128.4],[53,128.4],[56,130.2],[57,134.7],[59,137.4],[65,137.1],[68,132.4],[69,114],[74,113.7],[75,110.9],[82,110.7],[85,105.4],[90,105.2],[92,96.9],[94,96.9],[96,100.8],[99,101.5],[102,114],[106,114]];
const bot_chikou = [[0,112.7],[1,110],[2,104.3],[5,106.1],[7,120.1],[8,117.7],[9,124.2],[10,138.5],[11,142],[12,139.8],[14,148.5],[15,138],[16,135.8],[17,135.8],[18,137.8],[19,136.7],[21,140.7],[22,145.3],[23,143.9],[24,148.8],[25,146.3],[28,147.2],[30,142.6],[31,146.3],[33,143.5],[35,127.8],[36,129.7],[37,126],[39,136.1],[40,129.7],[41,123.2],[42,121.4],[43,107.6],[44,88.6],[45,90.1],[46,98.4],[47,85.5],[48,77.6],[49,81.8],[52,105.7],[54,113.5],[57,108.9],[58,114],[60,113.1],[61,119],[62,118.1],[63,106.3],[64,106.3],[65,110.4],[66,104.5],[68,114],[69,117.3],[70,125.5],[71,125.1],[72,130.1],[73,118.1],[74,121.4],[75,119],[77,126.9],[78,116.8],[79,113.1],[80,112.2],[81,111.3],[82,111.3]];
const bot_vol_red = [[94,378],[95,396],[96,449],[97,490],[98,430],[99,430],[100,477],[102,460],[103,464],[104,413],[105,396]];
const bot_vol_blue = [[94,209],[95,213],[96,230],[97,206],[98,176],[99,198],[100,178],[102,176],[103,153],[104,148],[105,166]];
const bot_macd_blue = [[0,.8],[3,-1.4],[5,-2.2],[9,-1.4],[11,.4],[14,2.3],[16,5.1],[20,6.9],[25,6.6],[29,6],[32,5.6],[35,6.4],[38,8.3],[41,10.1],[43,11.2],[46,11.2],[48,10.3],[51,9.9],[57,8.4],[61,6.4],[65,4],[68,1.2],[71,-5.1],[75,-8.7],[77,-10.9],[81,-10.3],[84,-7.7],[87,-4.4],[90,-2.5],[95,-1.2],[98,.8],[102,2.5],[106,2.3]];
const bot_macd_red = [[0,-1.8],[3,-3.4],[4,-3.1],[7,-1.4],[9,2.7],[11,4.4],[14,6.9],[17,7.7],[20,6.1],[25,6.9],[29,5.3],[31,4.9],[33,6.4],[36,9.9],[39,12.7],[41,11.7],[46,9.6],[51,9.2],[54,7.7],[57,6.6],[60,3.4],[62,1.4],[64,.8],[67,-1.8],[69,-7.7],[72,-10.3],[74,-12.9],[75,-13.1],[77,-10.9],[80,-6.1],[84,-3.8],[87,-1.2],[90,-1.8],[94,.1],[96,2.5],[101,2.7],[103,1.4],[106,.5]];
const bot_stoch_yellow = [[0,21],[1,19],[3,18],[4,50],[6,76],[7,85],[9,89],[10,78],[11,80],[14,89],[16,66],[19,50],[20,32],[22,44],[23,73],[25,91],[26,68],[28,35],[29,24],[30,40],[31,63],[33,85],[36,91],[38,93],[39,78],[42,37],[43,37],[46,53],[47,86],[49,86],[51,68],[54,58],[55,44],[57,63],[58,62],[60,40],[61,27],[62,29],[65,54],[67,25],[68,8],[70,13],[71,14],[72,27],[74,18],[75,27],[77,86],[78,99],[80,96],[81,81],[84,67],[86,62],[87,68],[89,32],[91,21],[93,40],[95,81],[97,91],[98,76],[100,59],[102,71],[103,66],[106,13]];
const bot_stoch_blue = [[0,0],[1,4],[3,4],[4,19],[5,48],[7,86],[9,94],[11,96],[15,95],[17,92],[20,25],[22,16],[24,66],[26,87],[27,68],[30,24],[31,40],[34,90],[35,99],[39,97],[40,84],[42,32],[44,12],[45,27],[46,43],[48,89],[49,96],[51,94],[53,86],[55,40],[56,35],[57,9],[58,11],[59,4],[63,4],[65,22],[68,23],[70,7],[72,1],[74,6],[77,76],[80,95],[84,90],[87,87],[89,43],[91,13],[92,16],[94,48],[96,91],[97,95],[100,76],[102,54],[103,26],[105,13],[106,13]];
const bot_stoch_green = [[0,22],[1,13],[3,17],[5,63],[7,73],[9,85],[10,75],[11,85],[12,89],[14,89],[16,65],[17,66],[18,53],[19,58],[20,47],[21,48],[22,53],[23,47],[25,62],[26,49],[28,53],[29,63],[30,58],[32,64],[33,62],[34,66],[36,93],[37,86],[39,89],[40,68],[41,62],[43,64],[44,47],[45,44],[46,49],[48,39],[49,72],[50,77],[51,71],[53,74],[54,55],[55,50],[57,54],[58,26],[60,13],[61,18],[62,14],[63,34],[64,40],[66,25],[68,22],[70,14],[71,27],[73,9],[75,27],[77,48],[78,66],[79,67],[80,61],[81,71],[82,87],[83,87],[85,76],[87,69],[88,36],[89,36],[90,49],[91,43],[93,53],[96,56],[97,77],[98,59],[99,59],[100,64],[102,62],[103,45],[104,33],[105,36],[106,25]];

const GRID = '#c0c0c0';
const CANDLE = '#0000cc';

// min/max of an axis so that value v1 sits at y1 and v2 at y2 on a canvas whose top is at page y "top"
function axis_limits(v1, y1, v2, y2, top, height){
    let per_px = (v1 - v2) / (y2 - y1);
    let max = v1 + (y1 - top) * per_px;
    return {min: max - height * per_px, max: max};
}

function y_axis(limits, tick_values, label_fn, zero_color){
    return {
        type: 'linear',
        position: 'right',
        min: limits.min,
        max: limits.max,
        border: {display: false},
        grid: {
            drawTicks: false,
            lineWidth: 1,
            color: function(ctx){ return (zero_color && ctx.tick && ctx.tick.value === 0) ? zero_color : GRID; }
        },
        ticks: {
            mirror: true,
            padding: -2,   // right edge of the text, measured from the axis that sits on the plot edge
            labelOffset: -5,
            autoSkip: false,
            color: '#000',
            font: {family: '"Noto Sans CJK JP"', size: 11},
            callback: label_fn
        },
        afterBuildTicks: function(axis){ axis.ticks = tick_values.map(v => ({value: v})); },
        // all axes lie on the right edge of the plot and take no room of their own
        afterFit: function(axis){ axis.width = 0; axis.paddingTop = 0; axis.paddingBottom = 0; }
    };
}

function line(data, color, width, axis, order){
    return {type: 'line', data: data, borderColor: color, borderWidth: width, pointRadius: 0,
            tension: 0, fill: false, yAxisID: axis, order: order};
}

function bars(values, fill, stroke, thickness, axis, order){
    return {type: 'bar', data: values.map((v, i) => ({x: i, y: v})), backgroundColor: fill, borderColor: stroke,
            borderWidth: 1, borderSkipped: false, barThickness: thickness, grouped: false, yAxisID: axis, order: order};
}

function make_chart(id, p){
    let wicks = p.candles.map((c, i) => ({x: i, y: [c[2], c[1]]}));
    let bodies = p.candles.map((c, i) => ({x: i, y: [Math.min(c[0], c[3]), Math.max(c[0], c[3])]}));
    let body_fill = p.candles.map(c => c[3] > c[0] ? '#ffffff' : CANDLE);

    let datasets = [
        // index 0 and 1 are the cloud: span a fills towards span b
        Object.assign(line(p.span_a, '#ff00ff', 1.6, 'price', 50),
                      {fill: {target: 1, above: '#c0c0c0', below: '#808080'}}),
        line(p.span_b, '#0099ff', 2, 'price', 49),
        {type: 'bar', data: wicks, backgroundColor: CANDLE, barThickness: 1.4, grouped: false, yAxisID: 'price', order: 31},
        {type: 'bar', data: bodies, backgroundColor: body_fill, borderColor: CANDLE, borderWidth: 1.2,
         borderSkipped: false, minBarLength: 2.5, barThickness: p.body_width, grouped: false, yAxisID: 'price', order: 30},
        line(p.chikou, '#00ccff', 1, 'price', 5),
        line(p.kijun, '#66cc99', 1.4, 'price', 4),
        line(p.tenkan, '#ffcc00', 1.4, 'price', 3),
        bars(p.volume, '#99ccff', '#0000cc', p.bar_width, 'vol', 20),
        line(p.vol_red, '#ff0000', 2, 'vol', 2),
        line(p.vol_blue, '#0000ff', 2, 'vol', 2),
        bars(p.hist, '#ffff99', '#999900', p.bar_width, 'macd', 20),
        line(p.macd_blue, '#0099ff', 2, 'macd', 2),
        line(p.macd_red, '#ff3300', 2, 'macd', 1),
        line(p.stoch_yellow, '#ffcc00', 2, 'stoch', 3),
        line(p.stoch_blue, '#0099ff', 2, 'stoch', 2),
        line(p.stoch_green, '#006600', 2, 'stoch', 1)
    ];

    let x_ticks = p.month_cols.slice();
    if (p.cut_col) x_ticks.push(p.cut_col);

    return new Chart(document.getElementById(id).getContext('2d'), {
        type: 'bar',
        data: {datasets: datasets},
        options: {
            responsive: false,
            animation: false,
            layout: {autoPadding: false, padding: 0},
            events: [],
            plugins: {legend: {display: false}, tooltip: {enabled: false}, filler: {drawTime: 'beforeDraw'}},
            scales: {
                x: {
                    type: 'linear',
                    position: 'top',
                    offset: false,
                    min: p.x_min,
                    max: p.x_max,
                    border: {display: false},
                    ticks: {display: false},
                    grid: {
                        offset: false,
                        drawTicks: false,
                        color: function(ctx){ return (ctx.tick && ctx.tick.value === p.cut_col) ? '#33bb00' : GRID; }
                    },
                    afterBuildTicks: function(axis){ axis.ticks = x_ticks.map(v => ({value: v})); },
                    afterFit: function(axis){ axis.height = 0; }
                },
                price: p.price_axis,
                vol: p.vol_axis,
                macd: p.macd_axis,
                stoch: p.stoch_axis
            }
        },
        plugins: [{
            id: 'date_labels',
            afterDraw: function(chart){
                let ctx = chart.ctx;
                let x = chart.scales.x;
                ctx.save();
                ctx.fillStyle = '#000';
                ctx.font = '11px "Noto Sans CJK JP"';
                ctx.textBaseline = 'middle';
                ctx.textAlign = 'left';
                p.month_cols.forEach(function(col, i){
                    ctx.fillText(p.month_labels[i], Math.max(x.getPixelForValue(col), 0) + 2, 7);
                });
                if (p.cut_col){
                    ctx.fillStyle = '#33bb00';
                    ctx.font = '13px "Noto Sans CJK JP"';
                    ctx.fillText('-> ここから日足', x.getPixelForValue(p.cut_col) + 3, 21);
                }
                ctx.restore();
            }
        }]
    });
}

const plain = v => String(v);
const stoch_ticks = [100, 75, 50, 25, 0];

make_chart('top_chart', {
    candles: top_candles, volume: top_volume, hist: top_hist, month_cols: top_month_cols, month_labels: top_month_labels,
    span_a: top_span_a, span_b: top_span_b, tenkan: top_tenkan, kijun: top_kijun, chikou: top_chikou,
    vol_red: top_vol_red, vol_blue: top_vol_blue, macd_blue: top_macd_blue, macd_red: top_macd_red,
    stoch_yellow: top_stoch_yellow, stoch_blue: top_stoch_blue, stoch_green: top_stoch_green,
    x_min: -.35, x_max: 175.45, body_width: 5.6, bar_width: 6.6,
    price_axis: y_axis(axis_limits(126, 62.3, 105, 183.3, 13, 426), [126, 119, 112, 105], plain),
    vol_axis: y_axis(axis_limits(400, 211.7, 0, 284.3, 13, 426), [400, 200, 0], v => String(v * 1000)),
    macd_axis: y_axis(axis_limits(2, 294.3, -2, 336.3, 13, 426), [2, 0, -2], plain, '#999900'),
    stoch_axis: y_axis(axis_limits(100, 372.7, 0, 438.3, 13, 426), stoch_ticks, plain)
});

make_chart('mid_chart', {
    candles: mid_candles, volume: mid_volume, hist: mid_hist, month_cols: mid_month_cols, month_labels: mid_month_labels, cut_col: mid_cut_col,
    span_a: mid_span_a, span_b: mid_span_b, tenkan: mid_tenkan, kijun: mid_kijun, chikou: mid_chikou,
    vol_red: mid_vol_red, vol_blue: mid_vol_blue, macd_blue: mid_macd_blue, macd_red: mid_macd_red,
    stoch_yellow: mid_stoch_yellow, stoch_blue: mid_stoch_blue, stoch_green: mid_stoch_green,
    x_min: -.12, x_max: 175.58, body_width: 5.6, bar_width: 6.6,
    price_axis: y_axis(axis_limits(130, 486, 80, 627.3, 455, 426), [130, 120, 110, 100, 90, 80], plain),
    vol_axis: y_axis(axis_limits(1600, 656.3, 0, 727.3, 455, 426), [1600, 800, 0], v => String(v * 1000)),
    macd_axis: y_axis(axis_limits(5, 734.3, -10, 794.3, 455, 426), [5, 0, -5, -10], plain, '#999900'),
    stoch_axis: y_axis(axis_limits(100, 815.3, 0, 880.7, 455, 426), stoch_ticks, plain)
});

make_chart('bot_chart', {
    candles: bot_candles, volume: bot_volume, hist: bot_hist, month_cols: bot_month_cols, month_labels: bot_month_labels,
    span_a: bot_span_a, span_b: bot_span_b, tenkan: bot_tenkan, kijun: bot_kijun, chikou: bot_chikou,
    vol_red: bot_vol_red, vol_blue: bot_vol_blue, macd_blue: bot_macd_blue, macd_red: bot_macd_red,
    stoch_yellow: bot_stoch_yellow, stoch_blue: bot_stoch_blue, stoch_green: bot_stoch_green,
    x_min: -.27, x_max: 113.93, body_width: 9, bar_width: 10,
    price_axis: y_axis(axis_limits(140, 956.3, 80, 1065.3, 899, 426), [140, 120, 100, 80], plain),
    vol_axis: y_axis(axis_limits(400, 1108.3, 0, 1171.3, 899, 426), [400, 200, 0], v => v === 0 ? '0' : v + '万'),
    macd_axis: y_axis(axis_limits(8, 1189.3, -8, 1230.3, 899, 426), [8, 0, -8], plain, '#999900'),
    stoch_axis: y_axis(axis_limits(100, 1259.3, 0, 1324.3, 899, 426), stoch_ticks, plain)
});
</script>
</body>
</html>
